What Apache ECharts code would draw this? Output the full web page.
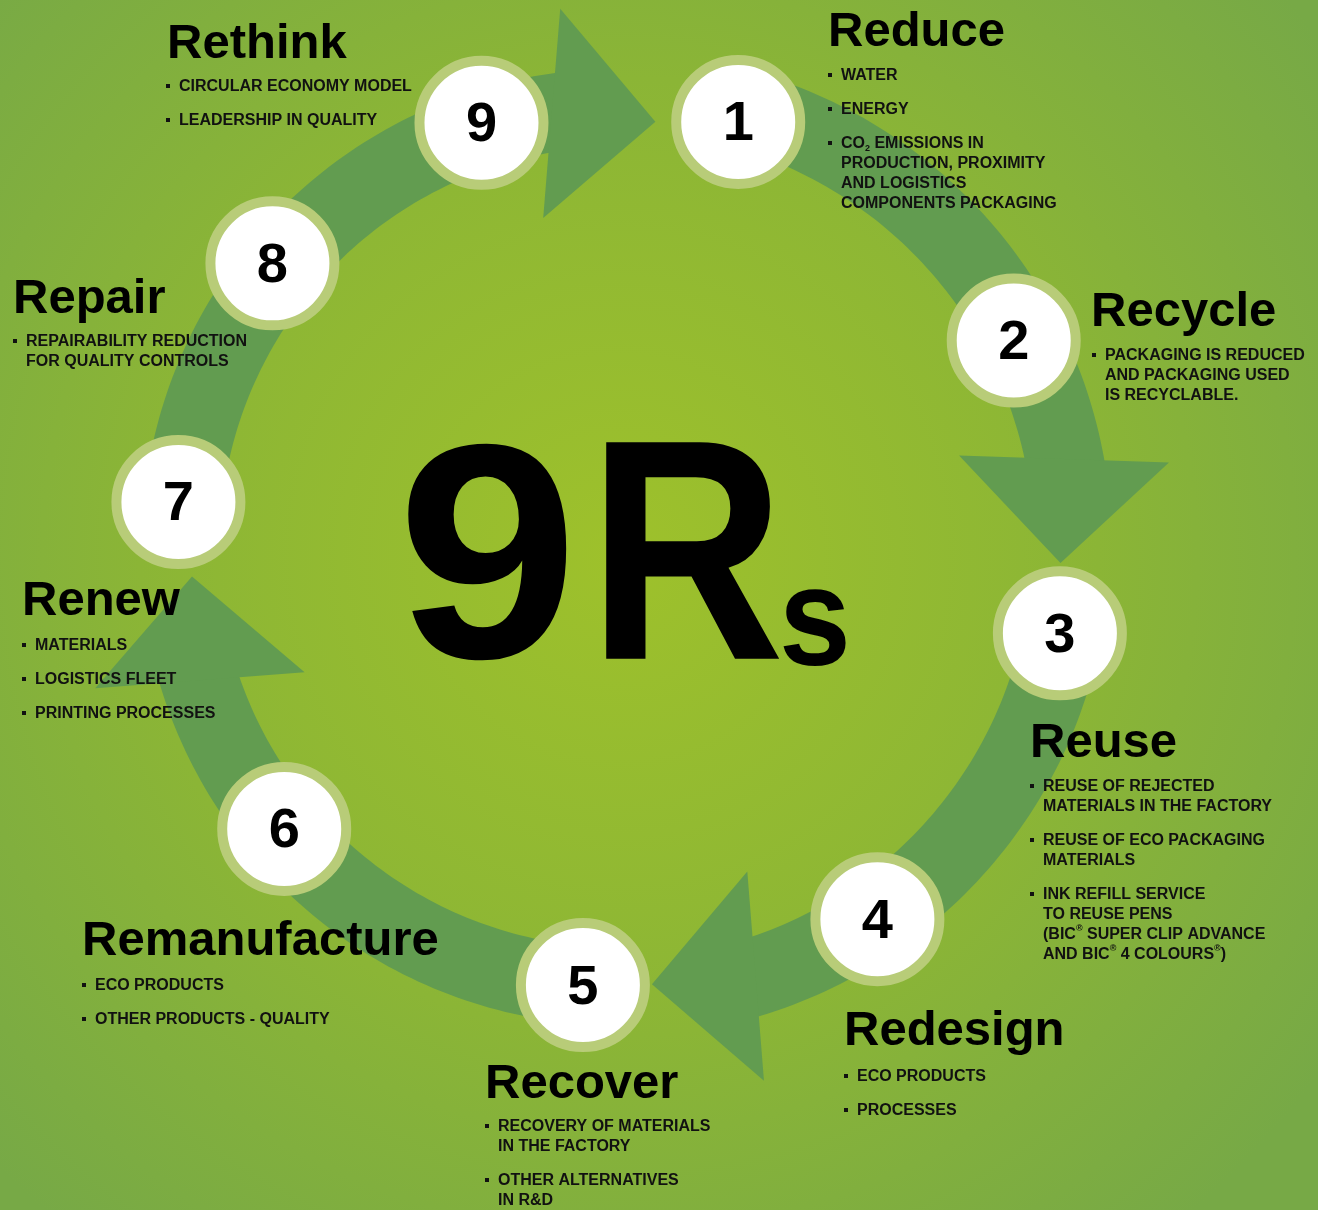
<!DOCTYPE html>
<html>
<head>
<meta charset="utf-8">
<title>9Rs</title>
<script src="https://cdn.jsdelivr.net/npm/echarts@6/dist/echarts.min.js"></script>
<style>
  html, body { margin: 0; padding: 0; background: #86b23a; }
  #chart { width: 1318px; height: 1210px; }
</style>
</head>
<body>
<div id="chart"></div>
<script>
// ---- data ----
var stepNumbers = ['1', '2', '3', '4', '5', '6', '7', '8', '9'];
var stepNames = ['Reduce', 'Recycle', 'Reuse', 'Redesign', 'Recover', 'Remanufacture', 'Renew', 'Repair', 'Rethink'];
// angle on the ring (degrees, clockwise from top) and radius (1 = ring)
var stepAngles = [15.7, 62.5, 101.2, 145.3, 184.7, 229.8, 275.7, 309.2, 342.0];
var stepRadius = [0.99, 1.0, 1.01, 1.02, 0.99, 0.985, 0.995, 1.005, 1.0];
var stepBullets = [
  ['WATER', 'ENERGY', 'CO₂ EMISSIONS IN\nPRODUCTION, PROXIMITY\nAND LOGISTICS\nCOMPONENTS PACKAGING'],
  ['PACKAGING IS REDUCED\nAND PACKAGING USED\nIS RECYCLABLE.'],
  ['REUSE OF REJECTED\nMATERIALS IN THE FACTORY', 'REUSE OF ECO PACKAGING\nMATERIALS',
   'INK REFILL SERVICE\nTO REUSE PENS\n(BIC® SUPER CLIP ADVANCE\nAND BIC® 4 COLOURS®)'],
  ['ECO PRODUCTS', 'PROCESSES'],
  ['RECOVERY OF MATERIALS\nIN THE FACTORY', 'OTHER ALTERNATIVES\nIN R&D'],
  ['ECO PRODUCTS', 'OTHER PRODUCTS - QUALITY'],
  ['MATERIALS', 'LOGISTICS FLEET', 'PRINTING PROCESSES'],
  ['REPAIRABILITY REDUCTION\nFOR QUALITY CONTROLS'],
  ['CIRCULAR ECONOMY MODEL', 'LEADERSHIP IN QUALITY']
];
// the four curved arrows: radius, start angle, tip angle
var arrowRadius = [0.985, 1.02, 1.015, 0.99];
var arrowStart = [-84.3, 15.7, 101.2, 184.7];
var arrowEnd = [4.9, 92.2, 175.7, 265.9];

// ---- chart ----
var chart = echarts.init(document.getElementById('chart'));
var FONT = '"Liberation Sans", Arial, Helvetica, sans-serif';
var ARROW = '#629c50';

// text layout: [left, baseline]
var titleAt = [[828, 49], [1091, 329], [1030, 760], [844, 1048], [485, 1101], [82, 958], [22, 618], [13, 316], [167, 61]];
var bulletAt = [[828, 81], [1092, 361], [1030, 792], [844, 1082], [485, 1132], [82, 991], [22, 651], [13, 347], [166, 92]];

function richify(s) {
  return s.replace(/®/g, '{sup|®}').replace(/₂/g, '{sub|2}');
}

var graphics = [];
stepNames.forEach(function (name, i) {
  graphics.push({
    type: 'text', z: 20, silent: true,
    x: titleAt[i][0], y: titleAt[i][1] - 42,
    style: { text: name, fontFamily: FONT, fontSize: 49, fontWeight: 'bold', fill: '#000', lineHeight: 50, verticalAlign: 'top' }
  });
  var bx = bulletAt[i][0], by = bulletAt[i][1];
  stepBullets[i].forEach(function (b) {
    graphics.push({
      type: 'rect', z: 20, silent: true,
      shape: { x: bx, y: by - 8, width: 4, height: 4 },
      style: { fill: '#111' }
    });
    graphics.push({
      type: 'text', z: 20, silent: true,
      x: bx + 13, y: by - 15.5,
      style: {
        text: richify(b), fontFamily: FONT, fontSize: 16, fontWeight: 'bold', fill: '#111',
        lineHeight: 20, verticalAlign: 'top',
        rich: {
          sup: { fontFamily: FONT, fontSize: 9, fontWeight: 'bold', fill: '#111', lineHeight: 14, verticalAlign: 'top' },
          sub: { fontFamily: FONT, fontSize: 9, fontWeight: 'bold', fill: '#111', lineHeight: 2, verticalAlign: 'bottom' }
        }
      }
    });
    by += b.split('\n').length * 20 + 14;
  });
});

// big 9Rs
graphics.push(
  { type: 'text', z: 20, silent: true, x: 397, y: 573, scaleX: 1.065,
    style: { text: '9', fontFamily: FONT, fontSize: 306, fontWeight: 'bold', fill: '#000', lineHeight: 306, verticalAlign: 'middle' } },
  { type: 'text', z: 20, silent: true, x: 588, y: 572, scaleX: 0.865,
    style: { text: 'R', fontFamily: FONT, fontSize: 315, fontWeight: 'bold', fill: '#000', lineHeight: 315, verticalAlign: 'middle' } },
  { type: 'text', z: 20, silent: true, x: 779, y: 627, scaleX: 0.93,
    style: { text: 's', fontFamily: FONT, fontSize: 139, fontWeight: 'bold', fill: '#000', lineHeight: 139, verticalAlign: 'middle' } }
);

var arrowData = arrowStart.map(function (a, i) {
  return [arrowRadius[i], a, arrowEnd[i]];
});

var nodeData = stepNumbers.map(function (n, i) {
  return { name: n, value: [stepRadius[i], stepAngles[i]] };
});

chart.setOption({
  animation: false,
  backgroundColor: {
    type: 'radial', x: 0.47, y: 0.46, r: 0.72,
    colorStops: [
      { offset: 0, color: '#9ec12b' },
      { offset: 0.55, color: '#8bb536' },
      { offset: 1, color: '#77a946' }
    ]
  },
  polar: { center: [619, 546], radius: 534 },
  angleAxis: { type: 'value', min: 0, max: 360, startAngle: 90, clockwise: true, show: false },
  radiusAxis: { type: 'value', min: 0, max: 1.2, show: false },
  graphic: graphics,
  series: [
    {
      type: 'custom',
      coordinateSystem: 'polar',
      silent: true,
      clip: false,
      z: 1,
      data: arrowData,
      renderItem: function (params, api) {
        var r = api.value(0), a0 = api.value(1), a1 = api.value(2);
        var c = api.coord([0, 0]);
        var e = api.coord([1, 0]);
        var unit = Math.sqrt((e[0] - c[0]) * (e[0] - c[0]) + (e[1] - c[1]) * (e[1] - c[1]));
        var band = 39 / unit, headLen = 104, headHalf = 105;
        // head: straight triangle whose base sits on the band end
        var rb = r * unit;
        var rt = Math.sqrt(rb * rb - headLen * headLen) / unit;
        var tip = api.coord([rt, a1]);
        var prev = api.coord([rt, a1 - 0.5]);
        var dx = tip[0] - prev[0], dy = tip[1] - prev[1];
        var dl = Math.sqrt(dx * dx + dy * dy);
        dx /= dl; dy /= dl;
        var bx = tip[0] - dx * headLen, by = tip[1] - dy * headLen;
        var head = [[bx - dy * headHalf, by + dx * headHalf], tip, [bx + dy * headHalf, by - dx * headHalf]];
        // band: runs a little under the head
        var aBase = a1 - Math.atan2(headLen, rt * unit) * 180 / Math.PI + 2;
        var pts = [], a;
        for (a = a0; a < aBase; a += 1) pts.push(api.coord([r + band, a]));
        pts.push(api.coord([r + band, aBase]));
        pts.push(api.coord([r - band, aBase]));
        for (a = aBase - 1; a > a0; a -= 1) pts.push(api.coord([r - band, a]));
        pts.push(api.coord([r - band, a0]));
        return {
          type: 'group',
          children: [
            { type: 'polygon', shape: { points: pts }, style: { fill: ARROW } },
            { type: 'polygon', shape: { points: head }, style: { fill: ARROW } }
          ]
        };
      }
    },
    {
      type: 'scatter',
      coordinateSystem: 'polar',
      silent: true,
      clip: false,
      z: 3,
      symbol: 'circle',
      symbolSize: 124,
      itemStyle: { color: '#ffffff', borderColor: '#b8cc78', borderWidth: 10, opacity: 1 },
      label: {
        show: true, position: 'inside', formatter: '{b}', offset: [0, 3],
        fontFamily: FONT, fontSize: 56, fontWeight: 'bold', color: '#000'
      },
      data: nodeData
    }
  ]
});
</script>
</body>
</html>
